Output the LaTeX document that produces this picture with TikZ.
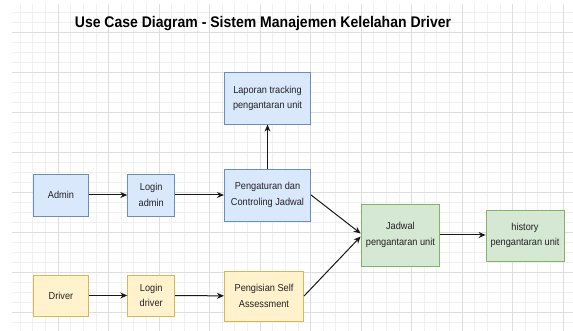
\documentclass[tikz,border=0pt]{standalone}
\usepackage{fontspec}
\setmainfont{Liberation Sans}[FakeStretch=0.91]
\usetikzlibrary{arrows.meta}
\definecolor{bluefill}{HTML}{DAE8FC}
\definecolor{bluedraw}{HTML}{6C8EBF}
\definecolor{yellowfill}{HTML}{FFF2CC}
\definecolor{yellowdraw}{HTML}{D6B656}
\definecolor{greenfill}{HTML}{D5E8D4}
\definecolor{greendraw}{HTML}{82B366}
\definecolor{gridminorc}{HTML}{F0F0F0}
\definecolor{gridmajorc}{HTML}{DEDEDE}
\definecolor{txtc}{HTML}{222222}
\tikzset{
  basebox/.style={rectangle, draw, line width=0.8pt, align=center, inner sep=1pt,
    text=txtc, font=\fontsize{10.1}{15.5}\selectfont},
  boxblue/.style={basebox, fill=bluefill, draw=bluedraw},
  boxyellow/.style={basebox, fill=yellowfill, draw=yellowdraw},
  boxgreen/.style={basebox, fill=greenfill, draw=greendraw},
  arr/.style={-{Stealth[length=7pt,width=6pt]}, line width=1pt, draw=black!90},
  gridminor/.style={draw=gridminorc, line width=0.6pt},
  gridmajor/.style={draw=gridmajorc, line width=0.8pt}
}
\begin{document}
\begin{tikzpicture}[x=1pt,y=-1pt]
\useasboundingbox (0,0) rectangle (573,331);
\fill[white] (0,0) rectangle (573,331);
\begin{scope}
\clip (12,4) rectangle (573,331);
\foreach \i in {-4,...,41} \draw[gridminor] ({58+12.625*\i},4) -- ({58+12.625*\i},331);
\foreach \i in {-7,...,26} \draw[gridminor] (12,{72+10*\i}) -- (573,{72+10*\i});
\foreach \i in {-1,...,10} \draw[gridmajor] ({58+50.5*\i},4) -- ({58+50.5*\i},331);
\foreach \i in {-1,...,7} \draw[gridmajor] (12,{72+40*\i}) -- (573,{72+40*\i});
\end{scope}

\node[font=\fontsize{15.4}{18}\selectfont\bfseries, text=black] (title) at (263,24)
  {Use Case Diagram - Sistem Manajemen Kelelahan Driver};

\node[boxblue, minimum width=86.3pt, minimum height=51.5pt] (lap) at (267.5,98.5)
  {Laporan tracking\\pengantaran unit};
\node[boxblue, minimum width=55pt, minimum height=42pt] (admin) at (61,195) {Admin};
\node[boxblue, minimum width=47pt, minimum height=42pt] (loga) at (151.2,195) {Login\\admin};
\node[boxblue, minimum width=86.3pt, minimum height=52pt] (peng) at (267.5,195)
  {Pengaturan dan\\Controling Jadwal};
\node[boxgreen, minimum width=78.7pt, minimum height=62pt] (jad) at (400.4,235)
  {Jadwal\\pengantaran unit};
\node[boxgreen, minimum width=78pt, minimum height=51pt] (hist) at (525,235.5)
  {history\\pengantaran unit};
\node[boxyellow, minimum width=55pt, minimum height=41pt] (driver) at (61,295.5) {Driver};
\node[boxyellow, minimum width=47pt, minimum height=41pt] (logd) at (151.2,295.5) {Login\\driver};
\node[boxyellow, minimum width=79.3pt, minimum height=50pt] (isi) at (264,296)
  {Pengisian Self\\Assessment};

\draw[arr] (admin) -- (loga);
\draw[arr] (loga) -- (peng);
\draw[arr] (peng) -- (lap);
\draw[arr] (peng.east) -- ([yshift=1.5pt]jad.west);
\draw[arr] (isi.east) -- ([yshift=-1.5pt]jad.west);
\draw[arr] (jad) -- (jad -| hist.west);
\draw[arr] (driver) -- (logd);
\draw[arr] (logd) -- (isi);
\end{tikzpicture}
\end{document}
